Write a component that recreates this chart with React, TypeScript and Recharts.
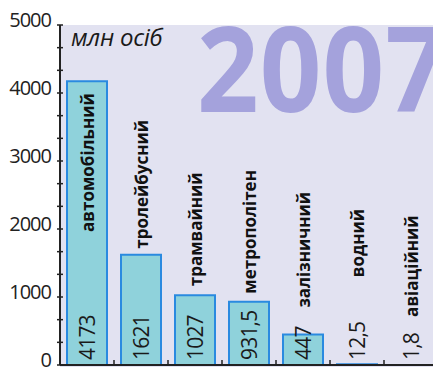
import { BarChart, Bar, XAxis, YAxis, LabelList } from "recharts";

const categories = [
  "автомобільний",
  "тролейбусний",
  "трамвайний",
  "метрополітен",
  "залізничний",
  "водний",
  "авіаційний",
];
const passengers = [4173, 1621, 1027, 931.5, 447, 12.5, 1.8];
const valueLabels = ["4173", "1621", "1027", "931,5", "447", "12,5", "1,8"];
const yMajorTicks = [0, 1000, 2000, 3000, 4000, 5000];

// gap between bar top and the rotated category name (px)
const nameLift = [0, 6, 9, 8, 27, 87, 48];

const data = categories.map((name, i) => ({
  name,
  value: passengers[i],
  label: valueLabels[i],
}));

const yTicks = yMajorTicks.flatMap((v) =>
  v < 5000 ? [v, v + 1000 / 3, v + 2000 / 3] : [v]
);

const FONT = "'Open Sans', 'Noto Sans', sans-serif";

const YTick = (props: any) => {
  const { x, y, payload } = props;
  const v = payload.value;
  const major = yMajorTicks.includes(Math.round(v));
  return (
    <g>
      <line x1={x - 3} x2={x + 3} y1={y} y2={y} stroke="#222" strokeWidth={1.5} />
      {major && (
        <text
          x={x - 9}
          y={y - 6}
          textAnchor="end"
          dominantBaseline="central"
          fontFamily={FONT}
          fontSize={20}
          letterSpacing={-1}
          fill="#222"
        >
          {v}
        </text>
      )}
    </g>
  );
};

const XTick = (props: any) => {
  const { x, y, payload } = props;
  const off = payload.offset || 27;
  return (
    <line x1={x + off} x2={x + off} y1={y - 5} y2={y} stroke="#222" strokeWidth={1.5} />
  );
};

const BarLabels = (props: any) => {
  const { x, y, width, height, index } = props;
  const cx = x + width / 2;
  const bottom = y + height;
  const inside = height > 200;
  const nameY = inside ? y + 12 : y - nameLift[index];
  return (
    <g>
      <text
        transform={`translate(${cx},${bottom - 5}) rotate(-90)`}
        textAnchor="start"
        dominantBaseline="central"
        fontFamily={FONT}
        fontSize={21}
        letterSpacing={-0.8}
        fill="#1a1a1a"
      >
        {valueLabels[index]}
      </text>
      <text
        transform={`translate(${cx},${nameY}) rotate(-90)`}
        textAnchor={inside ? "end" : "start"}
        dominantBaseline="central"
        fontFamily={FONT}
        fontWeight="bold"
        fontSize={17}
        fill="#111"
      >
        {categories[index]}
      </text>
    </g>
  );
};

export default function App() {
  return (
    <div
      style={{
        position: "fixed",
        left: 0,
        top: 0,
        width: 433,
        height: 371,
        overflow: "hidden",
        background: "#fff",
      }}
    >
      <div
        style={{
          position: "absolute",
          left: 60,
          top: 25,
          width: 380,
          height: 342,
          background: "#e2e2f1",
        }}
      />
      <div
        style={{
          position: "absolute",
          left: 197,
          top: 8,
          fontFamily: FONT,
          fontWeight: 700,
          fontSize: 108,
          lineHeight: "110px",
          color: "#a4a2dc",
          letterSpacing: 1,
          whiteSpace: "nowrap",
          transform: "scaleY(1.1)",
          transformOrigin: "0 20px",
        }}
      >
        2007
      </div>
      <div
        style={{
          position: "absolute",
          left: 71,
          top: 20,
          fontFamily: FONT,
          fontStyle: "italic",
          fontSize: 24,
          color: "#1a1a1a",
          letterSpacing: -0.3,
        }}
      >
        млн осіб
      </div>
      <div style={{ position: "absolute", left: 0, top: 0 }}>
        <BarChart
          width={438}
          height={371}
          data={data}
          margin={{ top: 25, right: 0, bottom: 0, left: 0 }}
          barSize={40}
        >
          <XAxis
            dataKey="name"
            height={6}
            axisLine={{ stroke: "#222", strokeWidth: 2 }}
            tickLine={false}
            tickSize={0}
            tickMargin={0}
            tick={<XTick />}
            interval={0}
          />
          <YAxis
            domain={[0, 5000]}
            ticks={yTicks}
            width={60}
            axisLine={{ stroke: "#222", strokeWidth: 2 }}
            tickLine={false}
            tickSize={0}
            tickMargin={0}
            tick={<YTick />}
            interval={0}
          />
          <Bar
            dataKey="value"
            fill="#8fd2db"
            stroke="#2a8ae0"
            strokeWidth={2}
            isAnimationActive={false}
          >
            <LabelList dataKey="value" content={<BarLabels />} />
          </Bar>
        </BarChart>
      </div>
    </div>
  );
}
